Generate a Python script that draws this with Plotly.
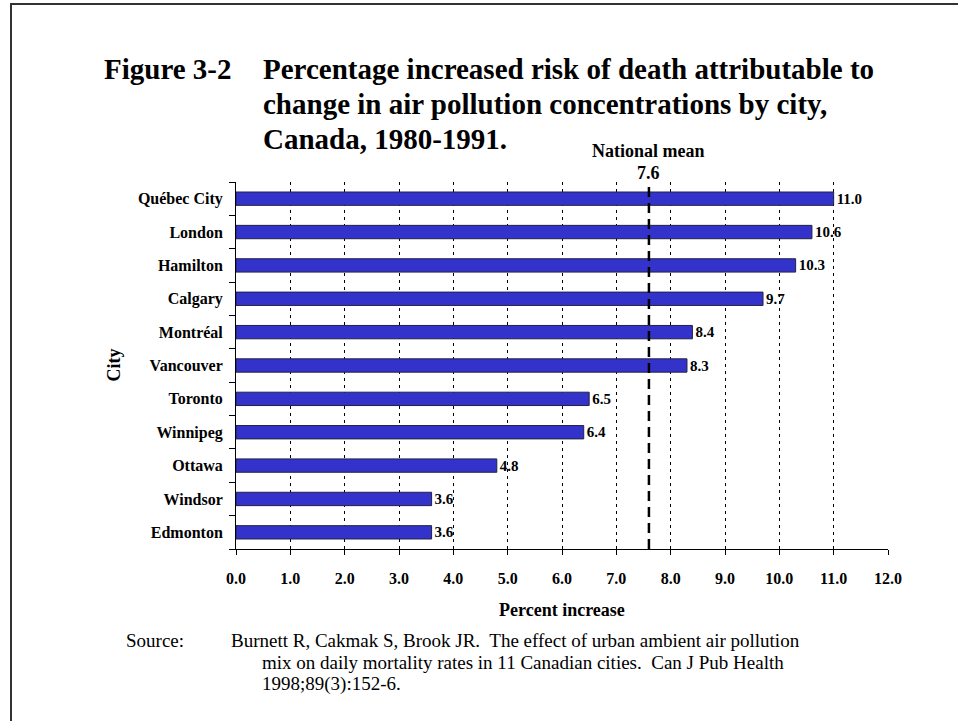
import plotly.graph_objects as go

cities = ["Québec City", "London", "Hamilton", "Calgary", "Montréal", "Vancouver",
          "Toronto", "Winnipeg", "Ottawa", "Windsor", "Edmonton"]
pct_increase = [11.0, 10.6, 10.3, 9.7, 8.4, 8.3, 6.5, 6.4, 4.8, 3.6, 3.6]
national_mean = 7.6
x_ticks = list(range(0, 13))
x_tick_labels = [f"{v:.1f}" for v in x_ticks]

title_tag = "Figure 3-2"
title_lines = ["Percentage increased risk of death attributable to",
               "change in air pollution concentrations by city,",
               "Canada, 1980-1991."]
source_lines = ["Source:",
                "Burnett R, Cakmak S, Brook JR.  The effect of urban ambient air pollution",
                "mix on daily mortality rates in 11 Canadian cities.  Can J Pub Health",
                "1998;89(3):152-6."]

W, H = 958, 721
L, R, T, B = 236, 70, 182, 172
PW, PH = W - L - R, H - T - B


def px(xp):
    return (xp - L) / PW


def py(yp):
    return (H - B - yp) / PH


SERIF = "Liberation Serif, Times New Roman, serif"

fig = go.Figure()
fig.add_trace(go.Bar(
    y=cities, x=pct_increase, orientation="h", width=0.4,
    marker=dict(color="#3333CC", line=dict(color="#222244", width=1)),
    text=[f"{v:.1f}" for v in pct_increase], textposition="outside",
    textfont=dict(family=SERIF, size=15, color="black"),
    texttemplate="<b>%{text}</b>", cliponaxis=False, constraintext="none",
    hoverinfo="skip",
))

fig.update_layout(
    width=W, height=H, autosize=False,
    margin=dict(l=L, r=R, t=T, b=B),
    paper_bgcolor="white", plot_bgcolor="white",
    showlegend=False,
    font=dict(family=SERIF, color="black"),
    xaxis=dict(range=[0, 12], tickvals=x_ticks,
               ticktext=[f"<b>{t}</b>" for t in x_tick_labels],
               ticks="outside", ticklen=5, tickcolor="black",
               showline=True, linecolor="black", linewidth=1,
               showgrid=True, gridcolor="black", griddash="3px,4px", gridwidth=1,
               zeroline=False, tickfont=dict(family=SERIF, size=16),
               ticklabelstandoff=10),
    yaxis=dict(categoryorder="array", categoryarray=cities,
               autorange="reversed",
               tickson="boundaries", ticks="outside", ticklen=6, tickcolor="black",
               showline=True, linecolor="black", linewidth=1,
               showgrid=False, zeroline=False,
               tickmode="array", tickvals=cities,
               ticktext=[f"<b>{c}</b>" for c in cities],
               tickfont=dict(family=SERIF, size=16), ticklabelstandoff=9),
)

# national mean line
fig.add_shape(type="line", xref="x", yref="paper", x0=national_mean, x1=national_mean,
              y0=0, y1=1, line=dict(color="black", width=2.5, dash="10px,6px"))
fig.add_annotation(x=national_mean, xref="x", y=py(173), yref="paper",
                   text=f"<b>{national_mean:.1f}</b>", showarrow=False,
                   font=dict(family=SERIF, size=18), xanchor="center", yanchor="middle")
fig.add_annotation(x=national_mean, xref="x", y=py(151), yref="paper",
                   text="<b>National mean</b>", showarrow=False,
                   font=dict(family=SERIF, size=18), xanchor="center", yanchor="middle")

# frame
fig.add_shape(type="rect", xref="paper", yref="paper",
              x0=px(11), x1=px(W + 300), y0=py(4), y1=py(H + 300),
              line=dict(color="#333333", width=2), fillcolor="rgba(0,0,0,0)", layer="above")

# title
fig.add_annotation(x=px(102), y=py(69), xref="paper", yref="paper",
                   text=f"<b>{title_tag}</b>", showarrow=False,
                   font=dict(family=SERIF, size=29), xanchor="left", yanchor="middle")
for i, line in enumerate(title_lines):
    fig.add_annotation(x=px(261), y=py(69 + 35 * i), xref="paper", yref="paper",
                       text=f"<b>{line}</b>", showarrow=False,
                       font=dict(family=SERIF, size=29), xanchor="left", yanchor="middle")

# axis titles
fig.add_annotation(x=px(113), y=0.5, xref="paper", yref="paper", text="<b>City</b>",
                   textangle=-90, showarrow=False, font=dict(family=SERIF, size=18),
                   xanchor="center", yanchor="middle")
fig.add_annotation(x=0.5, y=py(610), xref="paper", yref="paper",
                   text="<b>Percent increase</b>", showarrow=False,
                   font=dict(family=SERIF, size=18), xanchor="center", yanchor="middle")

# source
fig.add_annotation(x=px(124), y=py(640), xref="paper", yref="paper", text=source_lines[0],
                   showarrow=False, font=dict(family=SERIF, size=19),
                   xanchor="left", yanchor="middle")
for i, line in enumerate(source_lines[1:]):
    xp = 229 if i == 0 else 260
    fig.add_annotation(x=px(xp), y=py(640 + 22 * i), xref="paper", yref="paper", text=line,
                       showarrow=False, font=dict(family=SERIF, size=19),
                       xanchor="left", yanchor="middle")

fig.write_html("out.html", config={"displayModeBar": False},
               post_script="document.body.style.margin='0';")
